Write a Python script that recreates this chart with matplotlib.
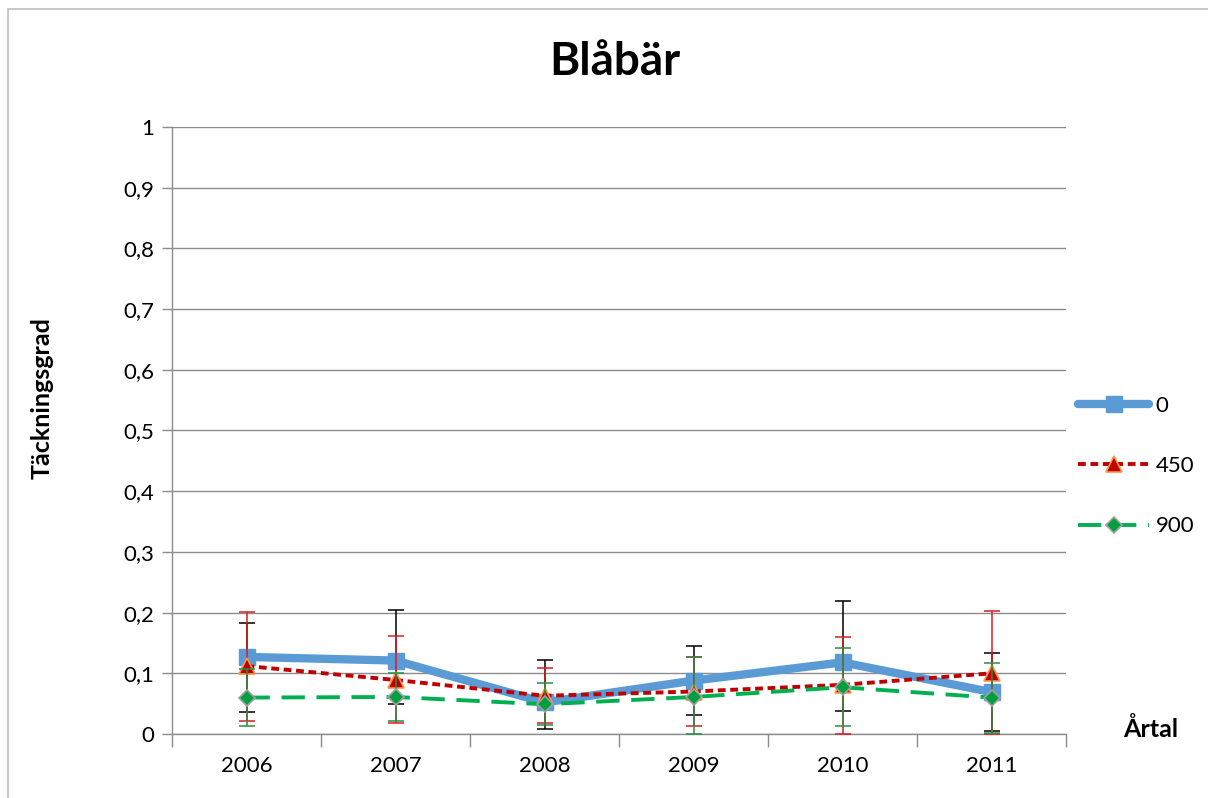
import matplotlib
matplotlib.use("Agg")
import matplotlib.pyplot as plt
import numpy as np
from matplotlib.patches import Rectangle
from matplotlib.ticker import FuncFormatter, MultipleLocator

plt.rcParams['font.family'] = ['Lato', 'DejaVu Sans']

years = ["2006", "2007", "2008", "2009", "2010", "2011"]
labels = ["0", "450", "900"]

vals_0 = [0.127, 0.121, 0.052, 0.088, 0.118, 0.069]
upper_0 = [0.183, 0.204, 0.122, 0.145, 0.219, 0.133]
lower_0 = [0.036, 0.049, 0.008, 0.031, 0.038, 0.005]

vals_450 = [0.112, 0.089, 0.063, 0.070, 0.081, 0.100]
upper_450 = [0.201, 0.161, 0.109, 0.127, 0.160, 0.203]
lower_450 = [0.021, 0.018, 0.018, 0.013, 0.000, 0.000]

vals_900 = [0.060, 0.061, 0.049, 0.061, 0.077, 0.060]
upper_900 = [0.107, 0.100, 0.084, 0.127, 0.141, 0.117]
lower_900 = [0.013, 0.021, 0.015, 0.000, 0.013, 0.002]

fig = plt.figure(figsize=(12.08, 7.98), dpi=100)
fig.patches.append(Rectangle((8/1208, -0.05), 1.2, (798-9)/798 + 0.05, transform=fig.transFigure,
                             fill=False, edgecolor='#BFBFBF', linewidth=1.2))
ax = fig.add_axes([172/1208, 1 - 734/798, (1066-172)/1208, (734-127)/798])

x = np.arange(len(years))

def err(v, up, lo):
    v = np.array(v); return np.vstack([v - np.array(lo), np.array(up) - v])

ax.errorbar(x, vals_0, yerr=err(vals_0, upper_0, lower_0), fmt='none', ecolor='black',
            elinewidth=1.1, capsize=6, capthick=1.1, zorder=3)
ax.plot(x, vals_0, color='#5B9BD5', lw=6, marker='s', markersize=11, solid_capstyle='round',
        markerfacecolor='#5B9BD5', markeredgecolor='#5B9BD5', zorder=4, label=labels[0])

ax.errorbar(x, vals_450, yerr=err(vals_450, upper_450, lower_450), fmt='none', ecolor='#D42020',
            elinewidth=1.1, capsize=6, capthick=1.1, zorder=5)
ax.plot(x, vals_450, color='#C00000', lw=2.8, linestyle=(0, (2, 1.2)), marker='^', markersize=11,
        markerfacecolor='#C00000', markeredgecolor='#F79646', markeredgewidth=1.2, zorder=6, label=labels[1])

ax.errorbar(x, vals_900, yerr=err(vals_900, upper_900, lower_900), fmt='none', ecolor='#2E8B45',
            elinewidth=1.1, capsize=6, capthick=1.1, zorder=7)
ax.plot(x, vals_900, color='#00B050', lw=2.8, linestyle=(0, (6, 3)), marker='D', markersize=8,
        markerfacecolor='#00A040', markeredgecolor='#A0A0A0', markeredgewidth=1.2, zorder=8, label=labels[2])

ax.set_xlim(-0.5, len(years) - 0.5)
ax.set_ylim(0, 1)
ax.yaxis.set_major_locator(MultipleLocator(0.1))
ax.yaxis.set_major_formatter(FuncFormatter(lambda v, p: ('%g' % round(v, 1)).replace('.', ',')))
ax.grid(axis='y', color='#8C8C8C', linewidth=1.0)
ax.set_axisbelow(True)
ax.set_xticks(x)
ax.set_xticklabels(years)
ax.set_xticks(np.arange(len(years) + 1) - 0.5, minor=True)
ax.tick_params(axis='x', which='major', length=0, labelsize=16, pad=16)
ax.tick_params(axis='x', which='minor', length=9, color='#8C8C8C', width=1.0)
ax.tick_params(axis='y', length=7, color='#8C8C8C', width=1.0, labelsize=16, pad=6)
for s in ['top', 'right']:
    ax.spines[s].set_visible(False)
for s in ['left', 'bottom']:
    ax.spines[s].set_color('#8C8C8C')
    ax.spines[s].set_linewidth(1.0)

fig.text(615/1208, 1 - 62/798, "Blåbär", ha='center', va='center', fontsize=33, fontweight='bold')
fig.text(42/1208, 1 - 398/798, "Täckningsgrad", ha='center', va='center', rotation=90,
         fontsize=18, fontweight='bold')
fig.text(1151/1208, 1 - 729/798, "Årtal", ha='center', va='center', fontsize=18, fontweight='bold')

fig.legend(loc='center left', bbox_to_anchor=(1058/1208, 1 - 466/798), frameon=False,
           fontsize=16, handlelength=3.2, handletextpad=0.3, labelspacing=1.82)

fig.savefig("out.png", dpi=100)
